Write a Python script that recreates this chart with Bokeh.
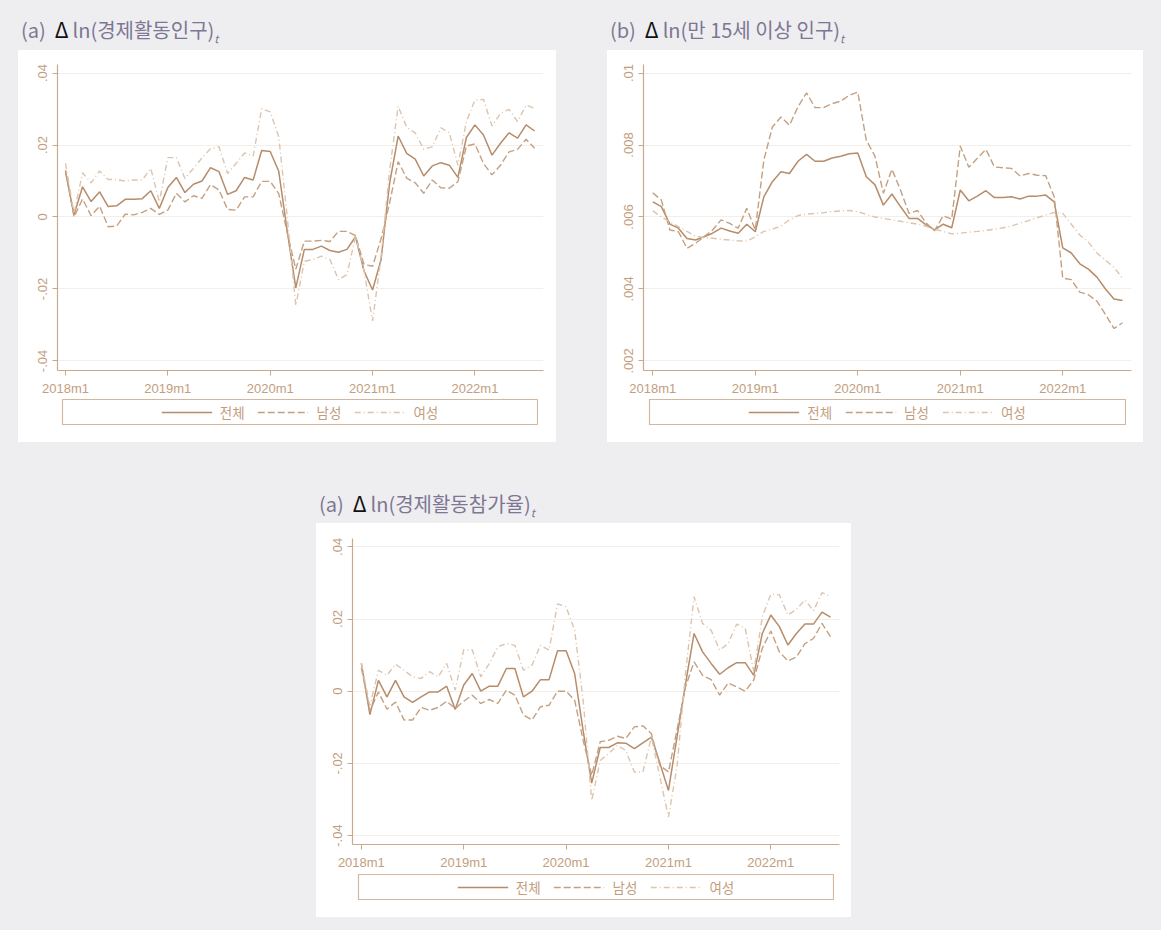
import numpy as np
from bokeh.plotting import figure
from bokeh.models import Range1d, FixedTicker, Legend, LegendItem, Div, Spacer
from bokeh.layouts import row, column
from bokeh.embed import file_html
from bokeh.resources import INLINE

# ---------------- data ----------------
x_tick_pos = [0, 12, 24, 36, 48]
x_tick_labels = ["2018m1", "2019m1", "2020m1", "2021m1", "2022m1"]
series_names = ["전체", "남성", "여성"]

# (a) Δln(경제활동인구), 2018m1 .. 2022m8
a_total = [0.0126, 0.0006, 0.0084, 0.0043, 0.0070, 0.0029, 0.0031, 0.0049, 0.0049, 0.0051,
           0.0073, 0.0024, 0.0082, 0.0110, 0.0068, 0.0091, 0.0100, 0.0137, 0.0126, 0.0063,
           0.0073, 0.0110, 0.0103, 0.0185, 0.0182, 0.0127, -0.0040, -0.0197, -0.0090, -0.0090,
           -0.0081, -0.0093, -0.0098, -0.0090, -0.0055, -0.0150, -0.0203, -0.0118, 0.0094, 0.0225,
           0.0177, 0.0161, 0.0114, 0.0142, 0.0151, 0.0144, 0.0110, 0.0221, 0.0256, 0.0228,
           0.0172, 0.0205, 0.0234, 0.0219, 0.0256, 0.0239]
a_male = [0.0130, 0.0000, 0.0050, 0.0004, 0.0030, -0.0027, -0.0025, 0.0008, 0.0006, 0.0013,
          0.0024, 0.0007, 0.0019, 0.0066, 0.0042, 0.0059, 0.0052, 0.0090, 0.0075, 0.0021,
          0.0019, 0.0056, 0.0056, 0.0099, 0.0099, 0.0065, -0.0044, -0.0145, -0.0067, -0.0067,
          -0.0065, -0.0068, -0.0040, -0.0040, -0.0052, -0.0132, -0.0137, -0.0060, 0.0039, 0.0154,
          0.0108, 0.0095, 0.0066, 0.0103, 0.0081, 0.0080, 0.0098, 0.0197, 0.0203, 0.0149,
          0.0117, 0.0144, 0.0181, 0.0188, 0.0216, 0.0191]
a_female = [0.0149, 0.0010, 0.0123, 0.0095, 0.0128, 0.0104, 0.0104, 0.0100, 0.0103, 0.0103,
            0.0135, 0.0042, 0.0165, 0.0165, 0.0107, 0.0135, 0.0164, 0.0190, 0.0195, 0.0121,
            0.0149, 0.0178, 0.0169, 0.0301, 0.0292, 0.0223, 0.0000, -0.0246, -0.0123, -0.0118,
            -0.0109, -0.0118, -0.0174, -0.0160, -0.0054, -0.0150, -0.0289, -0.0110, 0.0130, 0.0308,
            0.0249, 0.0234, 0.0188, 0.0195, 0.0248, 0.0234, 0.0144, 0.0265, 0.0325, 0.0327,
            0.0253, 0.0288, 0.0299, 0.0265, 0.0311, 0.0302]

# (b) Δln(만 15세 이상 인구)
b_total = [0.00642, 0.00629, 0.00580, 0.00569, 0.00540, 0.00536, 0.00545, 0.00555, 0.00569, 0.00561,
           0.00555, 0.00580, 0.00559, 0.00656, 0.00698, 0.00726, 0.00721, 0.00755, 0.00774, 0.00755,
           0.00755, 0.00764, 0.00769, 0.00776, 0.00778, 0.00712, 0.00690, 0.00633, 0.00664, 0.00629,
           0.00596, 0.00596, 0.00578, 0.00564, 0.00580, 0.00570, 0.00675, 0.00645, 0.00658, 0.00673,
           0.00654, 0.00654, 0.00656, 0.00650, 0.00658, 0.00658, 0.00661, 0.00642, 0.00514, 0.00500,
           0.00470, 0.00455, 0.00433, 0.00400, 0.00372, 0.00368]
b_male = [0.00667, 0.00647, 0.00564, 0.00559, 0.00513, 0.00527, 0.00545, 0.00564, 0.00592, 0.00582,
          0.00569, 0.00624, 0.00564, 0.00758, 0.00850, 0.00878, 0.00855, 0.00906, 0.00945, 0.00904,
          0.00904, 0.00915, 0.00922, 0.00938, 0.00947, 0.00813, 0.00770, 0.00666, 0.00733, 0.00675,
          0.00610, 0.00618, 0.00583, 0.00562, 0.00603, 0.00594, 0.00797, 0.00738, 0.00763, 0.00788,
          0.00739, 0.00737, 0.00735, 0.00714, 0.00721, 0.00716, 0.00715, 0.00656, 0.00430, 0.00426,
          0.00391, 0.00384, 0.00366, 0.00329, 0.00290, 0.00306]
b_female = [0.00617, 0.00600, 0.00587, 0.00573, 0.00560, 0.00547, 0.00543, 0.00541, 0.00538, 0.00536,
            0.00534, 0.00533, 0.00545, 0.00560, 0.00566, 0.00575, 0.00592, 0.00604, 0.00608, 0.00610,
            0.00612, 0.00615, 0.00617, 0.00618, 0.00615, 0.00607, 0.00600, 0.00596, 0.00592, 0.00588,
            0.00584, 0.00580, 0.00574, 0.00566, 0.00560, 0.00553, 0.00555, 0.00558, 0.00560, 0.00563,
            0.00566, 0.00570, 0.00575, 0.00583, 0.00590, 0.00598, 0.00605, 0.00613, 0.00610, 0.00580,
            0.00550, 0.00530, 0.00500, 0.00480, 0.00460, 0.00430]

# (a) Δln(경제활동참가율)
c_total = [0.0077, -0.0065, 0.0030, -0.0016, 0.0030, -0.0016, -0.0031, -0.0016, -0.0002, -0.0002,
           0.0014, -0.0051, 0.0017, 0.0049, 0.0000, 0.0014, 0.0014, 0.0063, 0.0063, -0.0016,
           0.0000, 0.0032, 0.0032, 0.0112, 0.0112, 0.0049, -0.0110, -0.0255, -0.0156, -0.0156,
           -0.0143, -0.0144, -0.0159, -0.0143, -0.0127, -0.0200, -0.0275, -0.0127, 0.0020, 0.0160,
           0.0109, 0.0077, 0.0047, 0.0065, 0.0079, 0.0079, 0.0044, 0.0160, 0.0211, 0.0179,
           0.0128, 0.0160, 0.0186, 0.0186, 0.0219, 0.0205]
c_male = [0.0065, -0.0055, -0.0002, -0.0050, -0.0030, -0.0080, -0.0080, -0.0045, -0.0053, -0.0045,
          -0.0028, -0.0048, -0.0028, -0.0011, -0.0034, -0.0023, -0.0034, 0.0003, -0.0011, -0.0066,
          -0.0080, -0.0043, -0.0039, 0.0000, 0.0000, -0.0025, -0.0136, -0.0233, -0.0140, -0.0136,
          -0.0125, -0.0131, -0.0099, -0.0096, -0.0118, -0.0206, -0.0224, -0.0108, 0.0012, 0.0081,
          0.0044, 0.0032, -0.0011, 0.0023, 0.0012, 0.0000, 0.0031, 0.0119, 0.0167, 0.0109,
          0.0084, 0.0095, 0.0132, 0.0146, 0.0188, 0.0151]
c_female = [0.0077, -0.0040, 0.0058, 0.0044, 0.0075, 0.0058, 0.0040, 0.0035, 0.0054, 0.0040,
            0.0077, 0.0003, 0.0115, 0.0115, 0.0040, 0.0077, 0.0123, 0.0132, 0.0127, 0.0058,
            0.0072, 0.0127, 0.0114, 0.0242, 0.0234, 0.0169, -0.0025, -0.0303, -0.0192, -0.0173,
            -0.0150, -0.0164, -0.0224, -0.0224, -0.0127, -0.0238, -0.0349, -0.0210, 0.0050, 0.0262,
            0.0188, 0.0169, 0.0114, 0.0132, 0.0186, 0.0174, 0.0054, 0.0206, 0.0269, 0.0267,
            0.0211, 0.0227, 0.0253, 0.0223, 0.0273, 0.0262]

yticks_ac = [-0.04, -0.02, 0.0, 0.02, 0.04]
ylabels_ac = ["-.04", "-.02", "0", ".02", ".04"]
yticks_b = [0.002, 0.004, 0.006, 0.008, 0.01]
ylabels_b = [".002", ".004", ".006", ".008", ".01"]

# ---------------- style ----------------
LINE_COLORS = ["#b68c6a", "#c4a082", "#dcc4ae"]
LINE_DASH = ["solid", "7 3", "6 3 1 3"]
LINE_W = [1.5, 1.4, 1.4]
AXIS_COLOR = "#c9a98b"
LABEL_COLOR = "#c39e7e"
GRID_COLOR = "#f4eee8"
TICK_FONT = "Liberation Sans"
KFONT = "Noto Sans CJK KR"
PAGE_BG = "#eeeef1"


def make_panel(series, xr, yr, yticks, ylabels, box_w, box_h, main_h,
               bl, br, bt, bb, leg_left, leg_w, leg_h):
    p = figure(width=box_w, height=main_h, x_range=Range1d(*xr), y_range=Range1d(*yr),
               output_backend="svg", toolbar_location=None,
               min_border_left=bl, min_border_right=br, min_border_top=bt, min_border_bottom=bb)
    p.background_fill_color = "white"
    p.border_fill_color = "white"
    p.outline_line_color = None
    for vals, c, d, w in zip(series, LINE_COLORS, LINE_DASH, LINE_W):
        xs = list(range(len(vals)))
        p.line(xs, vals, line_color=c, line_dash=d, line_width=w)
    p.xaxis.ticker = FixedTicker(ticks=x_tick_pos)
    p.xaxis.major_label_overrides = dict(zip(x_tick_pos, x_tick_labels))
    p.yaxis.ticker = FixedTicker(ticks=yticks)
    p.yaxis.major_label_overrides = dict(zip(yticks, ylabels))
    p.yaxis.major_label_orientation = "vertical"
    for ax in p.xaxis + p.yaxis:
        ax.axis_line_color = AXIS_COLOR
        ax.axis_line_width = 1.2
        ax.major_tick_line_color = AXIS_COLOR
        ax.major_tick_out = 5
        ax.major_tick_in = 0
        ax.minor_tick_line_color = None
        ax.major_label_text_color = LABEL_COLOR
        ax.major_label_text_font = TICK_FONT
        ax.major_label_text_font_size = "13px"
        ax.major_label_standoff = 5
    p.xgrid.visible = False
    p.ygrid.grid_line_color = GRID_COLOR
    p.ygrid.grid_line_width = 1.2

    lf = figure(width=leg_w, height=leg_h, x_range=Range1d(0, 1), y_range=Range1d(0, 1),
                output_backend="svg", toolbar_location=None, min_border=1,
                x_axis_type=None, y_axis_type=None)
    lf.background_fill_color = "white"
    lf.border_fill_color = "white"
    lf.outline_line_color = "#d2b69d"
    lf.outline_line_width = 1.2
    rs = []
    for c, d, w in zip(LINE_COLORS, LINE_DASH, LINE_W):
        # legend-only renderers: a single undefined point, nothing is drawn in the box
        rs.append(lf.line(x=[float("nan")], y=[float("nan")], line_color=c, line_dash=d,
                          line_width=w))
    legend = Legend(items=[LegendItem(label=n, renderers=[r]) for n, r in zip(series_names, rs)],
                    location="center", orientation="horizontal",
                    border_line_color=None, background_fill_alpha=0,
                    glyph_width=51, glyph_height=14, label_standoff=8, spacing=13,
                    padding=0, margin=0,
                    label_text_font=KFONT, label_text_font_size="13.5px",
                    label_text_color=LABEL_COLOR)
    lf.add_layout(legend)

    bottom = box_h - main_h - leg_h
    panel = column(p,
                   row(Spacer(width=leg_left, height=leg_h), lf,
                       Spacer(width=box_w - leg_left - leg_w, height=leg_h)),
                   Spacer(width=box_w, height=bottom),
                   styles={"background-color": "white"})
    return panel


panel_a = make_panel([a_total, a_male, a_female], (-0.938, 56.04), (-0.04266, 0.04238),
                     yticks_ac, ylabels_ac, 538, 392, 348, 39, 13, 14, 27, 43, 477, 27)
panel_b = make_panel([b_total, b_male, b_female], (-1.09, 56.05), (0.001734, 0.010238),
                     yticks_b, ylabels_b, 536, 392, 348, 36, 12, 14, 27, 41, 478, 27)
panel_c = make_panel([c_total, c_male, c_female], (-1.04, 56.05), (-0.04249, 0.04232),
                     yticks_ac, ylabels_ac, 535, 394, 350, 36, 12, 15, 29, 41, 477, 27)


def title_div(label, name, w, h, top):
    html = (f"<div style=\"margin-top:{top}px;line-height:24px;white-space:nowrap;"
            f"font-family:'{KFONT}';font-size:20px;font-weight:400;color:#7d7793;\">"
            f"{label}&nbsp;&nbsp;<span style='color:#111;font-size:21px'>&Delta;</span>"
            f"&thinsp;ln({name})<sub style='font-size:11px;font-style:italic'>t</sub></div>")
    return Div(text=html, width=w, height=h, margin=0)


div_a = title_div("(a)", "경제활동인구", 589, 50, 17)
div_b = title_div("(b)", "만 15세 이상 인구", 551, 50, 17)
div_c = title_div("(a)", "경제활동참가율", 600, 81, 49)

page = column(
    row(Spacer(width=21, height=50), div_a, div_b),
    row(Spacer(width=18, height=392), panel_a, Spacer(width=51, height=392), panel_b),
    row(Spacer(width=319, height=81), div_c),
    row(Spacer(width=316, height=394), panel_c),
    styles={"background-color": PAGE_BG},
    width=1161, height=930,
)

open("out.html", "w").write(file_html(page, INLINE))
